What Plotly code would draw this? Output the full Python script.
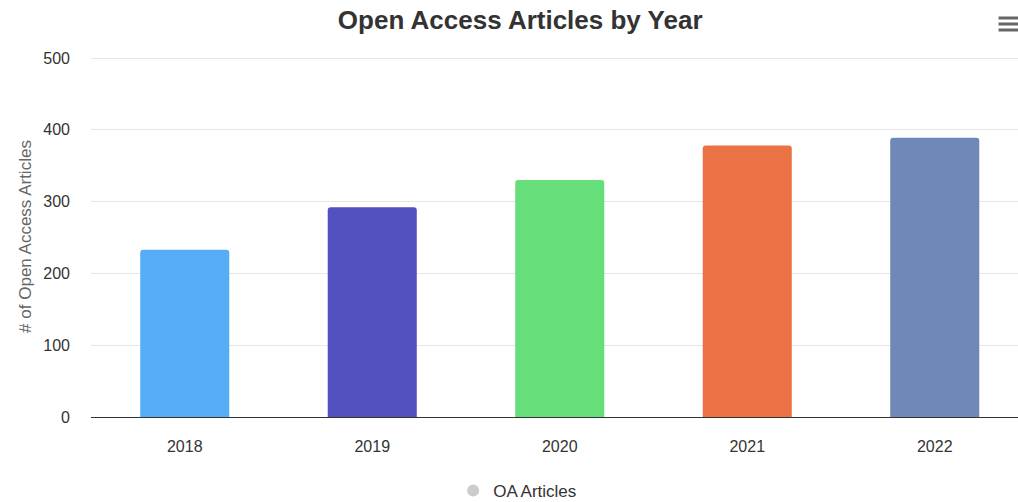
import plotly.graph_objects as go

years = ["2018", "2019", "2020", "2021", "2022"]
oa_articles = [233, 292, 330, 378, 389]
bar_colors = ["#56adf7", "#5350bf", "#66de7a", "#eb7245", "#6f88b8"]
y_ticks = [0, 100, 200, 300, 400, 500]

fig = go.Figure()
fig.add_trace(go.Bar(
    x=years, y=oa_articles, name="OA Articles",
    marker=dict(color=bar_colors, line=dict(width=0), cornerradius=3),
    width=0.475, showlegend=False,
))
fig.add_trace(go.Scatter(
    x=[None], y=[None], mode="markers", name="OA Articles",
    marker=dict(color="#cccccc", size=15, symbol="circle"),
))

fig.update_layout(
    width=1018, height=502,
    margin=dict(l=91, r=0, t=56, b=85),
    paper_bgcolor="white", plot_bgcolor="white",
    font=dict(family="Liberation Sans, Arial, sans-serif", color="#333333", size=16),
    title=dict(text="<b>Open Access Articles by Year</b>", xref="container", x=0.511,
               xanchor="center", y=0.96, yanchor="middle",
               font=dict(size=26, color="#333333")),
    bargap=0.5,
    xaxis=dict(
        type="category", range=[-0.5, 4.444], showgrid=False,
        showline=True, linecolor="#333333", linewidth=1,
        ticks="", tickfont=dict(size=16, color="#333333"), ticklabelstandoff=15,
        fixedrange=True,
    ),
    yaxis=dict(
        range=[0, 502.8], tickvals=y_ticks, showgrid=True, gridcolor="#e6e6e6",
        gridwidth=1, zeroline=False, showline=False,
        tickfont=dict(size=16, color="#333333"), ticklabelstandoff=20,
        title=dict(text="# of Open Access Articles", font=dict(size=17, color="#666666"),
                   standoff=7),
        fixedrange=True,
    ),
    legend=dict(orientation="h", x=0.5085, xref="container", xanchor="center",
                y=0.022, yref="container", yanchor="middle",
                font=dict(size=17, color="#333333"), itemsizing="constant"),
    shapes=[
        dict(type="line", xref="paper", yref="paper", x0=0.979, x1=1.0,
             y0=y, y1=y, line=dict(color="#666666", width=3))
        for y in [1.0 + 38/361, 1.0 + 32/361, 1.0 + 26/361]
    ],
)

fig.write_html("out.html", config={"displayModeBar": False})

with open("out.html", "r", encoding="utf-8") as f:
    html = f.read()
html = html.replace("<body>", '<body style="margin:0;padding:0;">', 1)
with open("out.html", "w", encoding="utf-8") as f:
    f.write(html)
